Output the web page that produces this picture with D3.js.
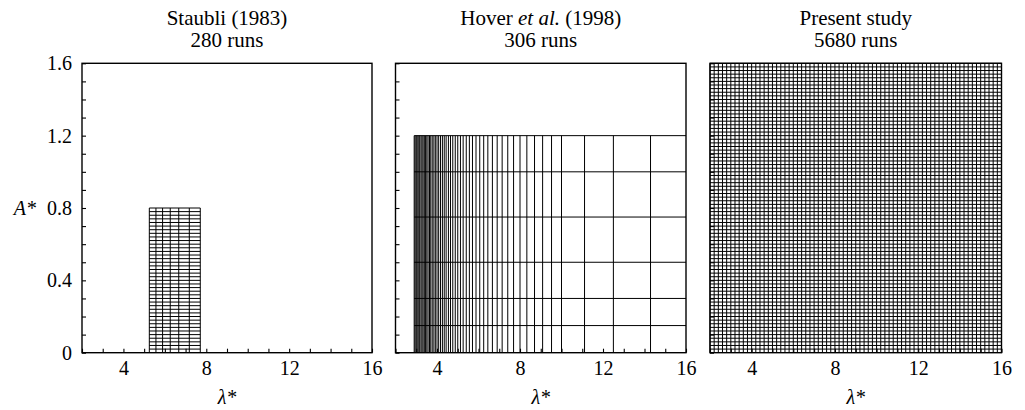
<!DOCTYPE html>
<html>
<head>
<meta charset="utf-8">
<script src="https://cdn.jsdelivr.net/npm/d3@7"></script>
<style>
  html, body { margin: 0; padding: 0; background: #fff; }
  svg { display: block; }
  text { font-family: "Liberation Serif", "Times New Roman", serif; fill: #000; }
</style>
</head>
<body>
<svg id="chart" width="1025" height="410"></svg>
<script>
// Test-matrix coverage in the (λ*, A*) plane for three studies.

// Staubli (1983): 7 wavelengths × 40 amplitudes
const staubliLambda = [5.25, 5.57, 5.89, 6.26, 6.67, 7.18, 7.71];
const staubliAmp = [
  0.02, 0.04, 0.06, 0.08, 0.10, 0.12, 0.14, 0.16, 0.18, 0.20,
  0.22, 0.24, 0.26, 0.28, 0.30, 0.32, 0.34, 0.36, 0.38, 0.40,
  0.42, 0.44, 0.46, 0.48, 0.50, 0.52, 0.54, 0.56, 0.58, 0.60,
  0.62, 0.64, 0.66, 0.68, 0.70, 0.72, 0.74, 0.76, 0.78, 0.80
];

// Hover et al. (1998)
const hoverLambda = [
  14.29, 12.50, 11.11, 10.00, 9.52, 9.09, 8.70, 8.33, 8.00, 7.69,
  7.41, 7.14, 6.90, 6.67, 6.45, 6.25, 6.06, 5.88, 5.71, 5.56,
  5.41, 5.26, 5.13, 5.00, 4.88, 4.76, 4.65, 4.55, 4.44, 4.35,
  4.26, 4.17, 4.08, 4.00, 3.92, 3.85, 3.77, 3.70, 3.64, 3.57,
  3.51, 3.45, 3.39, 3.33, 3.28, 3.23, 3.17, 3.13, 3.08, 3.03,
  2.99, 2.94, 2.90
];
const hoverAmp = [0.15, 0.30, 0.50, 0.75, 1.00, 1.20];

// Present study: 71 wavelengths × 80 amplitudes
const presentLambda = [
  2.0, 2.2, 2.4, 2.6, 2.8, 3.0, 3.2, 3.4, 3.6, 3.8,
  4.0, 4.2, 4.4, 4.6, 4.8, 5.0, 5.2, 5.4, 5.6, 5.8,
  6.0, 6.2, 6.4, 6.6, 6.8, 7.0, 7.2, 7.4, 7.6, 7.8,
  8.0, 8.2, 8.4, 8.6, 8.8, 9.0, 9.2, 9.4, 9.6, 9.8,
  10.0, 10.2, 10.4, 10.6, 10.8, 11.0, 11.2, 11.4, 11.6, 11.8,
  12.0, 12.2, 12.4, 12.6, 12.8, 13.0, 13.2, 13.4, 13.6, 13.8,
  14.0, 14.2, 14.4, 14.6, 14.8, 15.0, 15.2, 15.4, 15.6, 15.8,
  16.0
];
const presentAmp = [
  0.02, 0.04, 0.06, 0.08, 0.10, 0.12, 0.14, 0.16, 0.18, 0.20,
  0.22, 0.24, 0.26, 0.28, 0.30, 0.32, 0.34, 0.36, 0.38, 0.40,
  0.42, 0.44, 0.46, 0.48, 0.50, 0.52, 0.54, 0.56, 0.58, 0.60,
  0.62, 0.64, 0.66, 0.68, 0.70, 0.72, 0.74, 0.76, 0.78, 0.80,
  0.82, 0.84, 0.86, 0.88, 0.90, 0.92, 0.94, 0.96, 0.98, 1.00,
  1.02, 1.04, 1.06, 1.08, 1.10, 1.12, 1.14, 1.16, 1.18, 1.20,
  1.22, 1.24, 1.26, 1.28, 1.30, 1.32, 1.34, 1.36, 1.38, 1.40,
  1.42, 1.44, 1.46, 1.48, 1.50, 1.52, 1.54, 1.56, 1.58, 1.60
];

// Axis ticks
const xTickLabels = [4, 8, 12, 16];
const yTickLabels = [0, 0.4, 0.8, 1.2, 1.6];
const xMinorTicks = [2, 3, 4, 5, 6, 7, 8, 9, 10, 11, 12, 13, 14, 15, 16];
const yMinorTicks = [0, 0.1, 0.2, 0.3, 0.4, 0.5, 0.6, 0.7, 0.8, 0.9, 1.0,
                     1.1, 1.2, 1.3, 1.4, 1.5, 1.6];

const lambdaDomain = [2, 16];
const ampDomain = [0, 1.6];

const panels = [
  { title: ["Staubli (1983)"], runs: "280 runs", left: 82, right: 372,
    lam: staubliLambda, amp: staubliAmp, yLabels: true },
  { title: ["Hover ", "et al.", " (1998)"], runs: "306 runs", left: 395.5, right: 686,
    lam: hoverLambda, amp: hoverAmp, yLabels: false },
  { title: ["Present study"], runs: "5680 runs", left: 710, right: 1001.5,
    lam: presentLambda, amp: presentAmp, yLabels: false }
];

const plotTop = 63.3, plotBottom = 352.7;
const svg = d3.select("#chart");

panels.forEach((p, i) => {
  const x = d3.scaleLinear().domain(lambdaDomain).range([p.left, p.right]);
  const y = d3.scaleLinear().domain(ampDomain).range([plotBottom, plotTop]);
  const g = svg.append("g");

  const lamMin = d3.min(p.lam), lamMax = d3.max(p.lam);
  const ampMax = d3.max(p.amp);
  // horizontal lines of the Hover grid run out to the frame edge
  const hRight = i === 1 ? lambdaDomain[1] : lamMax;

  // grid of test points: one vertical per wavelength, one horizontal per amplitude
  g.append("g").selectAll("line").data(p.lam).join("line")
    .attr("x1", d => x(d)).attr("x2", d => x(d))
    .attr("y1", y(0)).attr("y2", y(ampMax))
    .attr("stroke", "#000").attr("stroke-width", 1);
  g.append("g").selectAll("line").data(p.amp).join("line")
    .attr("x1", x(lamMin)).attr("x2", x(hRight))
    .attr("y1", d => y(d)).attr("y2", d => y(d))
    .attr("stroke", "#000").attr("stroke-width", 1);

  // minor ticks (inward)
  g.append("g").attr("transform", `translate(0,${plotBottom})`)
    .call(d3.axisBottom(x).tickValues(xMinorTicks).tickSizeInner(-4).tickSizeOuter(0).tickFormat(""))
    .call(s => s.select(".domain").remove())
    .call(s => s.selectAll(".tick line").attr("stroke-width", 1.1));
  g.append("g").attr("transform", `translate(${p.left},0)`)
    .call(d3.axisLeft(y).tickValues(yMinorTicks).tickSizeInner(-4).tickSizeOuter(0).tickFormat(""))
    .call(s => s.select(".domain").remove())
    .call(s => s.selectAll(".tick line").attr("stroke-width", 1.1));

  // tick labels
  g.append("g").attr("transform", `translate(0,${plotBottom})`)
    .call(d3.axisBottom(x).tickValues(xTickLabels).tickSize(0).tickPadding(8.5).tickFormat(d3.format("d")))
    .call(s => s.select(".domain").remove())
    .call(s => s.selectAll("text").attr("font-size", 20).attr("font-family", "Liberation Serif"));
  if (p.yLabels) {
    g.append("g").attr("transform", `translate(${p.left},0)`)
      .call(d3.axisLeft(y).tickValues(yTickLabels).tickSize(0).tickPadding(10)
        .tickFormat(d => d === 0 ? "0" : d3.format(".1f")(d)))
      .call(s => s.select(".domain").remove())
      .call(s => s.selectAll("text").attr("font-size", 20).attr("font-family", "Liberation Serif"));
  }

  // frame
  g.append("rect")
    .attr("x", p.left).attr("y", plotTop)
    .attr("width", p.right - p.left).attr("height", plotBottom - plotTop)
    .attr("fill", "none").attr("stroke", "#000").attr("stroke-width", 1.4);

  // title (two lines)
  const cx = (p.left + p.right) / 2;
  const t1 = svg.append("text").attr("x", cx).attr("y", 25)
    .attr("text-anchor", "middle").attr("font-size", 21);
  p.title.forEach(part => {
    t1.append("tspan").text(part).attr("font-style", part === "et al." ? "italic" : null);
  });
  svg.append("text").attr("x", cx).attr("y", 47)
    .attr("text-anchor", "middle").attr("font-size", 21).text(p.runs);

  // x-axis title
  svg.append("text").attr("x", cx).attr("y", 404)
    .attr("text-anchor", "middle").attr("font-size", 20).attr("font-style", "italic")
    .text("λ*");
});

// y-axis title
svg.append("text").attr("x", 36).attr("y", 215)
  .attr("text-anchor", "end").attr("font-size", 20).attr("font-style", "italic")
  .text("A*");
</script>
</body>
</html>
